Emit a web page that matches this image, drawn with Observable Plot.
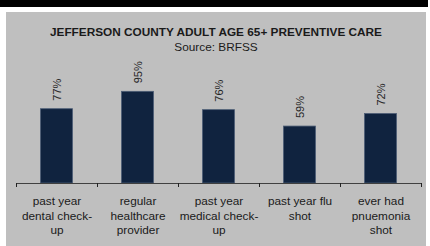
<!DOCTYPE html>
<html>
<head>
<meta charset="utf-8">
<script src="https://cdn.jsdelivr.net/npm/d3@7"></script>
<script src="https://cdn.jsdelivr.net/npm/@observablehq/plot@0.6"></script>
<style>
  html, body { margin: 0; padding: 0; background: #ffffff; }
  #wrap { position: relative; width: 430px; height: 246px; overflow: hidden; }
  #topbar { position: absolute; left: 0; top: 0; width: 428px; height: 7px; background: #000; }
  #panel { position: absolute; left: 6px; top: 12px; width: 420px; height: 234px; background: #bfbfbf; }
  #title { position: absolute; left: 6px; width: 420px; top: 25px; text-align: center;
           font-family: "Liberation Sans", Arial, sans-serif; font-weight: bold; font-size: 11.8px; color: #1a1a1a; }
  #subtitle { position: absolute; left: 6px; width: 420px; top: 40px; text-align: center;
           font-family: "Liberation Sans", Arial, sans-serif; font-size: 11.8px; color: #1a1a1a; }
  #chart { position: absolute; left: 0; top: 0; }
</style>
</head>
<body>
<div id="wrap">
  <div id="topbar"></div>
  <div id="panel"></div>
  <div id="title">JEFFERSON COUNTY ADULT AGE 65+ PREVENTIVE CARE</div>
  <div id="subtitle">Source: BRFSS</div>
  <div id="chart"></div>
</div>
<script>
const categories = ["dental", "provider", "medical", "flu", "pneumonia"];
const tickLabels = ["past year\ndental check-\nup", "regular\nhealthcare\nprovider", "past year\nmedical check-\nup", "past year flu\nshot", "ever had\npnuemonia\nshot"];
const values = [77, 95, 76, 59, 72];

const data = categories.map((c, i) => ({cat: c, value: values[i], label: values[i] + "%"}));
const labelOf = Object.fromEntries(categories.map((c, i) => [c, tickLabels[i]]));

const width = 430, height = 246, marginLeft = 16, marginRight = 9;
const bw = (width - marginLeft - marginRight) / categories.length;

const chart = Plot.plot({
  width, height,
  marginLeft, marginRight, marginTop: 0, marginBottom: 63,
  style: {background: "transparent", fontFamily: "Liberation Sans, Arial, sans-serif"},
  x: {type: "band", domain: categories, padding: 0, axis: null, label: null},
  y: {domain: [0, 100], range: [183, 86.5], axis: null},
  marks: [
    Plot.barY(data, {x: "cat", y: "value", fill: "#10233f", stroke: "#4c5d75", strokeWidth: 0.8, insetLeft: 24.5, insetRight: 24.5}),
    Plot.ruleY([0], {stroke: "#404040", strokeWidth: 1}),
    Plot.ruleX(categories, {x: (d) => d, dx: -bw / 2, y1: 0, y2: 0, insetBottom: -4, stroke: "#222", strokeWidth: 1}),
    Plot.ruleX(categories.slice(-1), {x: (d) => d, dx: bw / 2, y1: 0, y2: 0, insetBottom: -4, stroke: "#222", strokeWidth: 1}),
    Plot.text(data, {x: "cat", y: "value", text: "label", rotate: -90, textAnchor: "start", dy: -8.5, fontSize: 11, fill: "#262626"}),
    Plot.axisX({tickSize: 0, tickPadding: 12, tickFormat: (d) => labelOf[d], label: null, lineHeight: 1.19, fontSize: 11.8, fill: "#1a1a1a", lineAnchor: "top"})
  ]
});
document.getElementById("chart").appendChild(chart);
</script>
</body>
</html>
